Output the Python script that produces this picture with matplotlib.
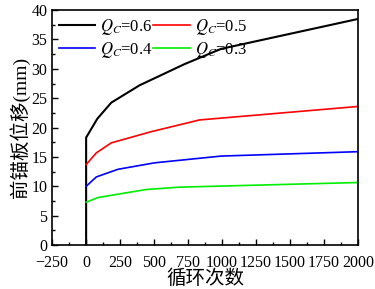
import matplotlib
matplotlib.use("Agg")
import matplotlib.pyplot as plt
from matplotlib.ticker import MultipleLocator

plt.rcParams['font.family'] = ['Liberation Serif', 'Noto Sans CJK SC']
plt.rcParams['mathtext.fontset'] = 'stix'

# cycles vs. front anchor plate displacement for each Qc
x_06 = [0, 0, 82, 185, 393, 723, 992, 2000]
y_06 = [0, 18.3, 21.5, 24.25, 27.2, 30.8, 33.4, 38.5]
x_05 = [0, 75, 185, 478, 833, 2000]
y_05 = [13.7, 15.7, 17.4, 19.3, 21.3, 23.6]
x_04 = [0, 75, 234, 503, 992, 2000]
y_04 = [10.0, 11.6, 12.9, 14.0, 15.15, 15.9]
x_03 = [0, 88, 442, 686, 2000]
y_03 = [7.3, 8.1, 9.46, 9.86, 10.65]

fig = plt.figure(figsize=(3.75, 2.89), dpi=100)
ax = fig.add_axes([0.139, 0.152, 0.816, 0.813])

l6, = ax.plot(x_06, y_06, color='black', lw=1.5, label='$Q_C$=0.6')
l5, = ax.plot(x_05, y_05, color='#ff0000', lw=1.2, label='$Q_C$=0.5')
l4, = ax.plot(x_04, y_04, color='#0000ff', lw=1.2, label='$Q_C$=0.4')
l3, = ax.plot(x_03, y_03, color='#00ee00', lw=1.2, label='$Q_C$=0.3')

ax.set_xlim(-250, 2000)
ax.set_ylim(0, 40)
ax.xaxis.set_major_locator(MultipleLocator(250))
ax.xaxis.set_minor_locator(MultipleLocator(125))
ax.yaxis.set_major_locator(MultipleLocator(5))
ax.yaxis.set_minor_locator(MultipleLocator(2.5))
ax.tick_params(which='both', direction='in', labelsize=11.5, width=1)
ax.tick_params(which='major', length=4)
ax.tick_params(which='minor', length=2)
ax.tick_params(axis='x', pad=7)
for s in ax.spines.values():
    s.set_linewidth(1.2)

ax.set_xlabel('循环次数', fontsize=14, labelpad=-1)
ax.set_ylabel('前锚板位移(mm)', fontsize=14, labelpad=1)

ax.legend([l6, l4, l5, l3], [l.get_label() for l in (l6, l4, l5, l3)],
          loc='upper left', ncol=2, frameon=False, fontsize=12,
          handlelength=2.2, columnspacing=0.0, handletextpad=0.3,
          borderaxespad=0.0, labelspacing=0.2)

fig.savefig('out.png', dpi=100)
